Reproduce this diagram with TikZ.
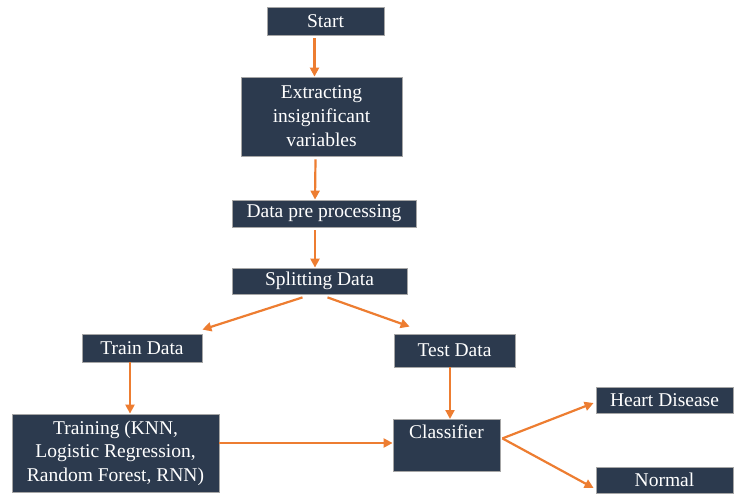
\documentclass[tikz,border=0pt]{standalone}
\usepackage{fontspec}
\setmainfont{Liberation Serif}
\usetikzlibrary{arrows.meta}
\definecolor{boxfill}{HTML}{2C3A4E}
\definecolor{arrorange}{HTML}{ED7D31}
\tikzset{
    box/.style={draw=gray!70, line width=0.8pt, fill=boxfill, text=white, inner sep=0pt,
        align=center, font=\fontsize{19.5}{24}\selectfont},
    arr/.style={draw=arrorange, line width=2.2pt, ->, >={Triangle[length=9pt,width=9pt]}}
}

\begin{document}
\begin{tikzpicture}[x=1pt, y=-1pt]

\useasboundingbox (0,0) rectangle (739,493);

% main column
\node[box, minimum width=117, minimum height=28] (start) at (325.5,21) {Start};
\node[box, minimum width=161, minimum height=79] (extract) at (321.5,116.5) {Extracting\\insignificant\\variables};
\node[box, minimum width=184, minimum height=27] (prep) at (324,213.5) {Data pre processing};
\node[box, minimum width=175, minimum height=26] (split) at (319.5,281) {Splitting Data};

% train / test branches
\node[box, minimum width=120, minimum height=28] (train) at (142,348) {Train Data};
\node[box, minimum width=121, minimum height=33] (test) at (454.5,350.5) {Test Data};
\node[box, minimum width=207, minimum height=78, font=\fontsize{19.5}{23.5}\selectfont] (training) at (115.5,453) {Training (KNN,\\Logistic Regression,\\Random Forest, RNN)};
\node[box, minimum width=107, text height=19, text depth=33, anchor=north] (classifier) at (446.5,419) {Classifier};

% outcomes
\node[box, minimum width=137, minimum height=26] (heart) at (664.5,400) {Heart Disease};
\node[box, minimum width=137, minimum height=26] (normal) at (664.5,480) {Normal};

\draw[arr] ([xshift=-11,yshift=-3]start.south) -- ([xshift=-7]extract.north);
\draw[arr] ([xshift=-6,yshift=-3]extract.south) -- ([xshift=-9]prep.north);
\draw[arr] ([xshift=-9,yshift=-3]prep.south) -- ([xshift=-4.5]split.north);
\draw[arr] ([xshift=-17,yshift=-3]split.south) -- ([yshift=4]train.north east);
\draw[arr] ([xshift=8,yshift=-3]split.south) -- ([xshift=16,yshift=7]test.north west);
\draw[arr] ([xshift=-12]train.south) -- ([xshift=14.5]training.north);
\draw[arr] ([xshift=-4.5]test.south) -- ([xshift=3.5]classifier.north);
\draw[arr] ([yshift=10]training.east) -- (classifier.west |- 0,443);
\draw[arr] ([xshift=2,yshift=7]classifier.east) -- ([xshift=-2,yshift=-3]heart.west);
\draw[arr] ([xshift=2,yshift=7]classifier.east) -- ([xshift=-2,yshift=-8]normal.west);

\end{tikzpicture}
\end{document}
